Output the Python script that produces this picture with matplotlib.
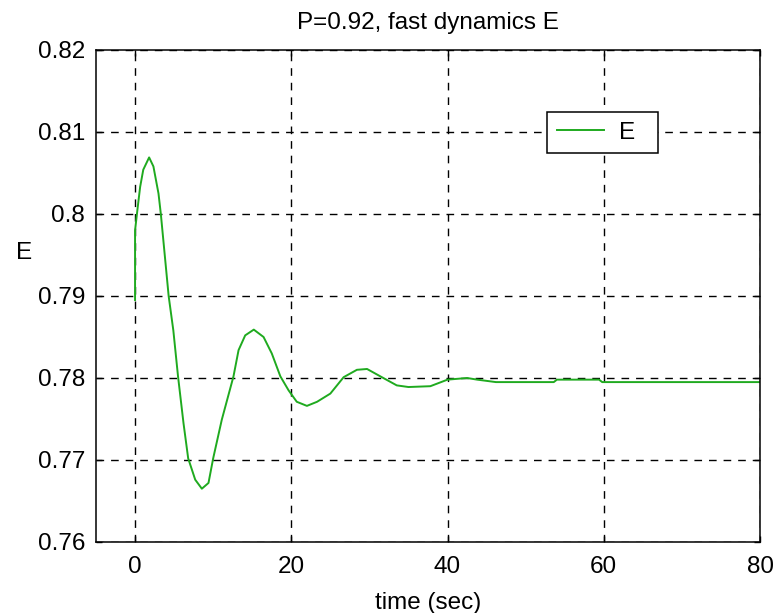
import matplotlib
matplotlib.use('Agg')
import matplotlib.pyplot as plt

# gia tri doc tu hinh goc
time_s = [0.0, 0.0, 0.3, 0.65, 1.05, 1.8, 2.35, 3.0, 3.3, 4.3,
          4.9, 5.5, 6.2, 6.8, 7.7, 8.55, 9.4, 10.0, 11.1, 12.6,
          13.25, 14.1, 15.2, 16.45, 17.5, 18.6, 19.65, 20.7, 22.0, 23.3,
          25.0, 26.7, 28.4, 29.7, 31.4, 33.5, 35.0, 37.8, 40.0, 42.5,
          43.8, 46.2, 53.6, 54.0, 59.4, 59.8, 80.0]
E_vals = [0.7895, 0.798, 0.8005, 0.8033, 0.8054, 0.8069, 0.8058, 0.8025, 0.8000, 0.7900,
          0.7858, 0.7802, 0.7745, 0.7702, 0.7676, 0.7665, 0.7672, 0.7702, 0.7749, 0.7802,
          0.7834, 0.7852, 0.7859, 0.7850, 0.7830, 0.7802, 0.7785, 0.7771, 0.7766, 0.7771,
          0.7781, 0.7801, 0.7810, 0.7811, 0.7802, 0.7791, 0.7789, 0.7790, 0.7798, 0.7800,
          0.7798, 0.7795, 0.7795, 0.7798, 0.7798, 0.7795, 0.7795]

x_ticks = [0, 20, 40, 60, 80]
y_ticks = [0.76, 0.77, 0.78, 0.79, 0.80, 0.81, 0.82]
y_ticklabels = ['0.76', '0.77', '0.78', '0.79', '0.8', '0.81', '0.82']

plt.rcParams['font.family'] = ['Liberation Sans', 'DejaVu Sans']
fs = 17.5

fig = plt.figure(figsize=(7.76, 6.13), dpi=100)
ax = fig.add_axes([96 / 776, 1 - 542 / 613, 664 / 776, 492 / 613])

ax.plot(time_s, E_vals, color='#1faa1f', linewidth=1.4, label='E  ')

ax.set_xlim(-5, 80)
ax.set_ylim(0.76, 0.82)
ax.set_xticks(x_ticks)
ax.set_yticks(y_ticks)
ax.set_yticklabels(y_ticklabels)
ax.tick_params(direction='in', top=True, right=True, length=4, width=1,
               labelsize=fs, colors='black')
ax.tick_params(axis='x', pad=10)
ax.tick_params(axis='y', pad=8)

ax.grid(True, color='black', linestyle=(0, (5.5, 5)), linewidth=1.0)
for sp in ax.spines.values():
    sp.set_linewidth(1.1)
    sp.set_color('black')

ax.set_title('P=0.92, fast dynamics E', fontsize=fs, pad=15)
ax.set_xlabel('time (sec)', fontsize=fs)
ax.set_ylabel('E', fontsize=fs, rotation=0, va='center')
ax.yaxis.set_label_coords(-0.108, 0.587)
ax.xaxis.set_label_coords(0.5, -0.102)

leg = ax.legend(loc='upper left', bbox_to_anchor=(0.679, 0.874), borderaxespad=0,
                fontsize=fs, frameon=True, fancybox=False, edgecolor='black',
                framealpha=1, borderpad=0.4, handlelength=1.95, handletextpad=0.6)
leg.get_frame().set_linewidth(1.1)

fig.savefig('out.png', dpi=100)
